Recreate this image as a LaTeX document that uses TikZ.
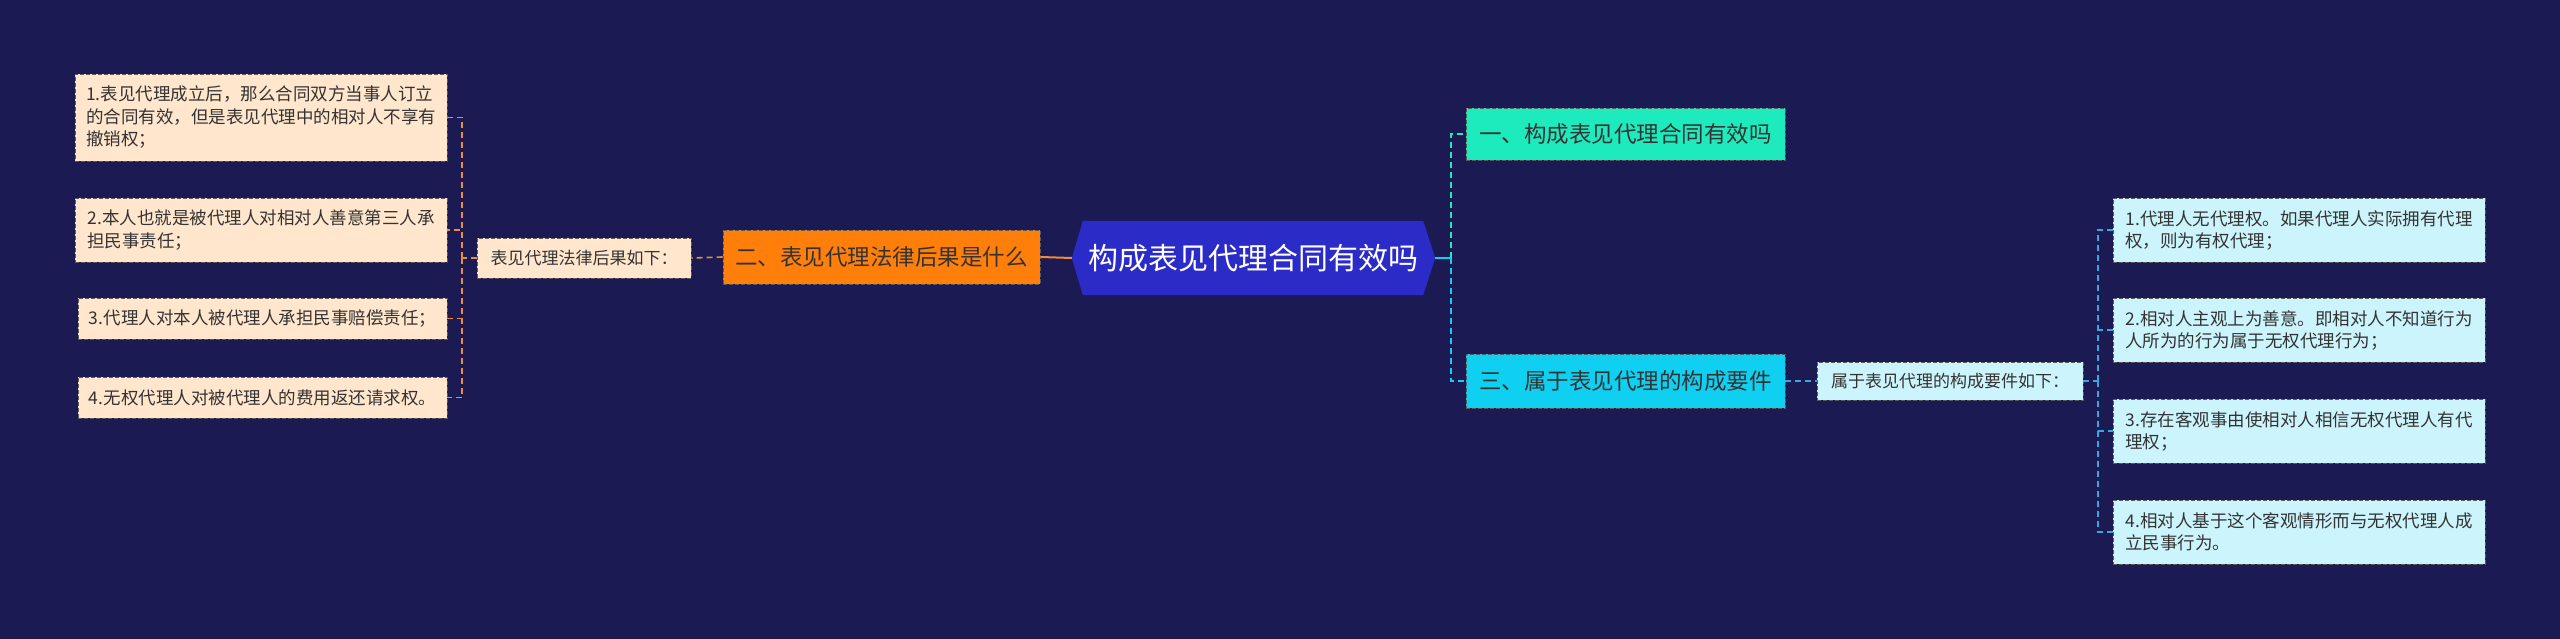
\documentclass[tikz,border=0pt]{standalone}
\usepackage{fontspec}
\newfontfamily\cjk{Noto Sans CJK SC}
\definecolor{bgc}{HTML}{1B1A52}
\definecolor{hexc}{HTML}{2B2BC7}
\definecolor{orng}{HTML}{FF7F0A}
\definecolor{teal1}{HTML}{1DEBBE}
\definecolor{cyan1}{HTML}{10D0F2}
\definecolor{peach}{HTML}{FFE6CC}
\definecolor{lcyan}{HTML}{CCF4FC}
\definecolor{conO}{HTML}{F08A3C}
\definecolor{conB}{HTML}{36A8E0}
\definecolor{bord}{HTML}{5A5A5A}
\definecolor{txt}{HTML}{333333}
\pgfdeclarelayer{back}
\pgfsetlayers{back,main}
\begin{document}
\begin{tikzpicture}[x=1pt,y=-1pt,
  box/.style={rectangle, draw=bord, dash pattern=on 4pt off 2pt, line width=0.9pt, inner sep=0pt, align=left, text=txt},
  leafL/.style={box, fill=peach, font=\cjk\fontsize{17.5}{22.5}\selectfont},
  leafR/.style={box, fill=lcyan, font=\cjk\fontsize{17.5}{22}\selectfont, minimum width=372pt, minimum height=64pt},
  midL/.style={box, fill=peach, font=\cjk\fontsize{17}{20}\selectfont},
  midR/.style={box, fill=lcyan, font=\cjk\fontsize{17}{20}\selectfont},
  topic/.style={box, font=\cjk\fontsize{22.5}{26}\selectfont},
  lnO/.style={draw=conO, line width=1.6pt, dash pattern=on 6pt off 4pt},
  lnB/.style={draw=conB, line width=1.6pt, dash pattern=on 6pt off 4pt}
]
\begin{pgfonlayer}{back}
\fill[bgc] (0,0) rectangle (2560,639);
\end{pgfonlayer}
\useasboundingbox (0,0) rectangle (2560,639);

% center
\node[font=\cjk\fontsize{30}{34}\selectfont, text=white, minimum width=340pt, minimum height=74pt, inner sep=0pt] (c) at (1253,258) {构成表见代理合同有效吗};
\begin{pgfonlayer}{back}
\fill[hexc] (c.north west) -- (c.north east) -- ([xshift=12pt]c.east) -- (c.south east) -- (c.south west) -- ([xshift=-11pt]c.west) -- cycle;
\end{pgfonlayer}

% left side
\node[topic, fill=orng, minimum width=317pt, minimum height=54pt] (o) at (881.5,257) {二、表见代理法律后果是什么};
\node[midL, minimum width=214pt, minimum height=40pt] (lm) at (584,258) {表见代理法律后果如下：};
\node[leafL, minimum width=372pt, minimum height=87pt] (l1) at (261,117.5) {1.表见代理成立后，那么合同双方当事人订立\\的合同有效，但是表见代理中的相对人不享有\\撤销权；};
\node[leafL, minimum width=372pt, minimum height=64pt] (l2) at (261,230) {2.本人也就是被代理人对相对人善意第三人承\\担民事责任；};
\node[leafL, minimum width=369pt, minimum height=41pt] (l3) at (262.5,318.5) {3.代理人对本人被代理人承担民事赔偿责任；};
\node[leafL, minimum width=369pt, minimum height=41pt] (l4) at (262.5,397.5) {4.无权代理人对被代理人的费用返还请求权。};

% right side
\node[topic, fill=teal1, minimum width=319pt, minimum height=52pt] (t1) at (1625.5,134) {一、构成表见代理合同有效吗};
\node[topic, fill=cyan1, minimum width=319pt, minimum height=54pt] (t3) at (1625.5,381) {三、属于表见代理的构成要件};
\node[midR, minimum width=266pt, minimum height=38pt] (rm) at (1950,381) {属于表见代理的构成要件如下：};
\node[leafR] (r1) at (2299,230) {1.代理人无代理权。如果代理人实际拥有代理\\权，则为有权代理；};
\node[leafR] (r2) at (2299,330) {2.相对人主观上为善意。即相对人不知道行为\\人所为的行为属于无权代理行为；};
\node[leafR] (r3) at (2299,431) {3.存在客观事由使相对人相信无权代理人有代\\理权；};
\node[leafR] (r4) at (2299,532) {4.相对人基于这个客观情形而与无权代理人成\\立民事行为。};

% junctions
\coordinate (jl) at (462,258);
\coordinate (jr) at (1451,258);
\coordinate (jr2) at (2098,381);

% connectors left
\draw[draw=conO, line width=2pt] ([xshift=-11pt]c.west) -- (o.east);
\draw[lnO] (o.west) -- (lm.east);
\draw[lnO] (lm.west) -- (jl);
\draw[lnO] (jl) |- (l1.east);
\draw[lnO] (jl) |- (l2.east);
\draw[lnO] (jl) |- (l3.east);
\draw[lnO] (jl) |- (l4.east);

% connectors right
\draw[draw=cyan1, line width=2pt] ([xshift=12pt]c.east) -- (jr);
\draw[draw=teal1, line width=2pt, dash pattern=on 6pt off 4pt] (jr) |- (t1.west);
\draw[draw=cyan1, line width=2pt, dash pattern=on 6pt off 4pt] (jr) |- (t3.west);
\draw[lnB] (t3.east) -- (rm.west);
\draw[lnB] (rm.east) -- (jr2);
\draw[lnB] (jr2) |- (r1.west);
\draw[lnB] (jr2) |- (r2.west);
\draw[lnB] (jr2) |- (r3.west);
\draw[lnB] (jr2) |- (r4.west);
\end{tikzpicture}
\end{document}
